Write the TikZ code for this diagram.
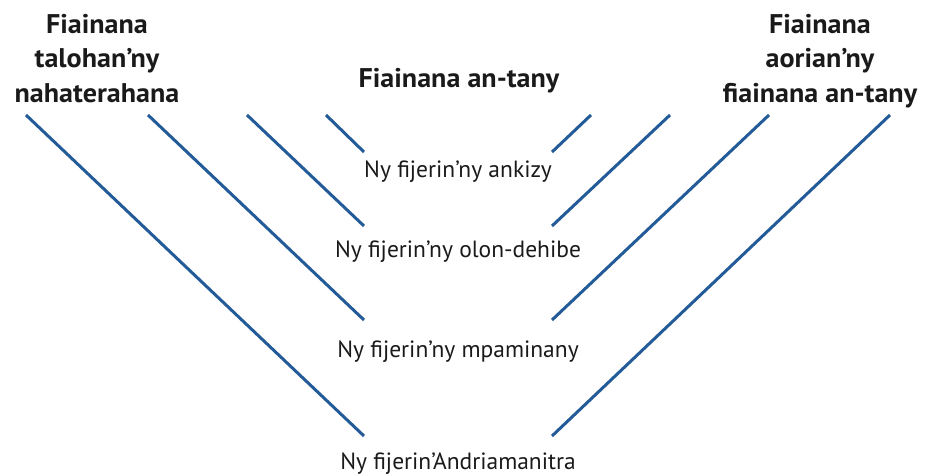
\documentclass[tikz,border=0pt]{standalone}
\usepackage{fontspec}
\setmainfont{PT Sans}
\newfontfamily\headfont[FakeStretch=1.04]{PT Sans}
\definecolor{lineblue}{HTML}{235B98}
\definecolor{txt}{HTML}{1A1A1A}
\begin{document}
\begin{tikzpicture}[x=1pt,y=-1pt,
  conn/.style={draw=lineblue,line width=3pt},
  lbl/.style={inner sep=0pt,anchor=base,text=txt,font=\fontsize{23.5}{28}\selectfont},
  head/.style={inner sep=0pt,anchor=base,text=txt,font=\headfont\bfseries\fontsize{27}{34}\selectfont}]
\useasboundingbox (0,0) rectangle (927,474);
% headings
\node[head] (hl1) at (97,33) {Fiainana};
\node[head] (hl2) at (97,67.5) {talohan’ny};
\node[head] (hl3) at (97,102) {nahaterahana};
\node[head] (hm) at (459,87) {Fiainana an-tany};
\node[head] (hr1) at (820,33) {Fiainana};
\node[head] (hr2) at (820,67.5) {aorian’ny};
\node[head] (hr3) at (820,102) {fiainana an-tany};
% labels
\node[lbl] (t1) at (458,177) {Ny fijerin’ny ankizy};
\node[lbl] (t2) at (458,257) {Ny fijerin’ny olon-dehibe};
\node[lbl] (t3) at (458,357) {Ny fijerin’ny mpaminany};
\node[lbl] (t4) at (458,469) {Ny fijerin’Andriamanitra};
% line end points
\coordinate (a1) at (26,115);  \coordinate (a1b) at (364,436);
\coordinate (a2) at (148,115); \coordinate (a2b) at (364,320);
\coordinate (a3) at (247,115); \coordinate (a3b) at (364,226);
\coordinate (a4) at (326,115); \coordinate (a4b) at (364,152);
\coordinate (b1) at (890,115); \coordinate (b1b) at (552,436);
\coordinate (b2) at (769,115); \coordinate (b2b) at (552,320);
\coordinate (b3) at (670,115); \coordinate (b3b) at (552,226);
\coordinate (b4) at (591,115); \coordinate (b4b) at (552,152);
\draw[conn] (a1) -- (a1b);
\draw[conn] (a2) -- (a2b);
\draw[conn] (a3) -- (a3b);
\draw[conn] (a4) -- (a4b);
\draw[conn] (b1) -- (b1b);
\draw[conn] (b2) -- (b2b);
\draw[conn] (b3) -- (b3b);
\draw[conn] (b4) -- (b4b);
\end{tikzpicture}
\end{document}
